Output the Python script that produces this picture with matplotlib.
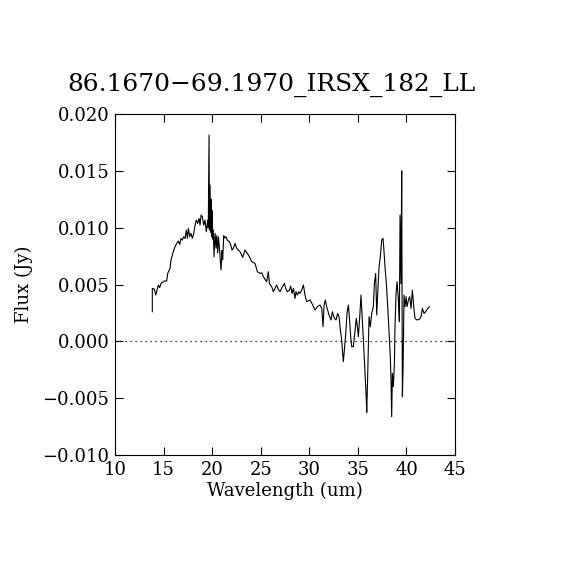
import matplotlib
matplotlib.use("Agg")
import matplotlib.pyplot as plt

# spectrum (wavelength in um, flux in Jy)
wave = [13.84, 13.84, 14.05, 14.19, 14.33, 14.46, 14.60, 14.74, 14.87, 15.08,
        15.32, 15.42, 15.66, 15.76, 16.00, 16.18, 16.35, 16.52, 16.66, 16.79,
        16.93, 17.07, 17.21, 17.34, 17.45, 17.55, 17.69, 17.82, 17.96, 18.10,
        18.24, 18.37, 18.51, 18.65, 18.75, 18.85, 18.99, 19.13, 19.26, 19.40,
        19.54, 19.60,
        19.68, 19.72, 19.78, 19.85, 19.90, 19.95, 20.00, 20.05, 20.12, 20.19,
        20.30, 20.40, 20.47, 20.57, 20.64, 20.74, 20.81, 20.91, 21.02, 21.08,
        21.19, 21.29, 21.43, 21.56, 21.77, 21.91, 22.05, 22.18, 22.35, 22.53,
        22.70, 22.87, 23.14, 23.38, 23.62, 23.83, 24.07, 24.41, 24.65, 24.93,
        25.10, 25.27, 25.44, 25.61, 25.78, 25.89, 26.13, 26.30, 26.47, 26.64,
        26.81, 26.99, 27.23, 27.43, 27.57, 27.74, 27.95, 28.08, 28.22, 28.36,
        28.53, 28.63, 28.77, 28.91, 29.04, 29.22, 29.39, 29.56, 29.73, 30.07,
        30.35, 30.59, 30.83, 31.10, 31.28, 31.41, 31.52, 31.65, 31.79, 32.03,
        32.24, 32.37, 32.58, 32.75, 32.92, 33.06, 33.16, 33.33, 33.50, 33.61,
        33.75, 33.88, 34.02, 34.12, 34.26, 34.36, 34.53, 34.71, 34.84, 34.95,
        35.05, 35.19, 35.32, 35.46, 35.60, 35.74, 35.87, 35.91, 36.01, 36.15,
        36.28, 36.42, 36.59, 36.70, 36.83, 36.94, 37.04, 37.18, 37.31, 37.45,
        37.59, 37.69, 37.79, 37.93, 38.07, 38.21, 38.34, 38.41, 38.48, 38.55,
        38.65, 38.76, 38.82, 38.93, 39.03, 39.17, 39.27, 39.34, 39.44, 39.51,
        39.58, 39.65, 39.75, 39.85, 39.96, 40.06, 40.20, 40.33, 40.47, 40.61,
        40.75, 40.88, 41.09, 41.33, 41.50, 41.64, 41.81, 41.98, 42.19, 42.36]

flux = [0.00261, 0.00466, 0.00460, 0.00408, 0.00452, 0.00496, 0.00473, 0.00510, 0.00519, 0.00531,
        0.00531, 0.00598, 0.00642, 0.00716, 0.00789, 0.00833, 0.00862, 0.00883, 0.00853, 0.00906,
        0.00892, 0.00921, 0.00906, 0.00980, 0.00906, 0.00994, 0.00921, 0.00950, 0.00906, 0.00950,
        0.01023, 0.01067, 0.01038, 0.01082, 0.01023, 0.01111, 0.01097, 0.01023, 0.01067, 0.00965,
        0.01067, 0.01000,
        0.01815, 0.00980, 0.01375, 0.00960, 0.01250, 0.00920, 0.01150, 0.00900, 0.00980, 0.00745,
        0.00950, 0.00820, 0.00930, 0.00780, 0.00920, 0.00830, 0.00750, 0.00628, 0.00800, 0.00720,
        0.00930, 0.00910, 0.00920, 0.00890, 0.00877, 0.00848, 0.00804, 0.00818, 0.00862, 0.00818,
        0.00804, 0.00789, 0.00739, 0.00804, 0.00774, 0.00745, 0.00701, 0.00686, 0.00613, 0.00598,
        0.00604, 0.00569, 0.00546, 0.00525, 0.00613, 0.00510, 0.00481, 0.00437, 0.00466, 0.00496,
        0.00458, 0.00437, 0.00481, 0.00510, 0.00466, 0.00437, 0.00452, 0.00487, 0.00422, 0.00466,
        0.00378, 0.00437, 0.00407, 0.00437, 0.00422, 0.00452, 0.00496, 0.00407, 0.00349, 0.00364,
        0.00320, 0.00276, 0.00305, 0.00320, 0.00290, 0.00129, 0.00320, 0.00364, 0.00305, 0.00232,
        0.00188, 0.00261, 0.00202, 0.00188, 0.00246, 0.00217, 0.00129, 0.00012, -0.00179, -0.00076,
        0.00070, 0.00246, 0.00320, 0.00217, 0.00041, -0.00047, -0.00047, 0.00100, 0.00202, 0.00129,
        0.00041, 0.00217, 0.00407, 0.00188, -0.00047, -0.00282, -0.00516, -0.00625, -0.00296, 0.00217,
        0.00129, 0.00246, 0.00305, 0.00510, 0.00598, 0.00232, 0.00422, 0.00657, 0.00745, 0.00892,
        0.00906, 0.00789, 0.00657, 0.00510, 0.00305, 0.00070, -0.00135, -0.00340, -0.00663, -0.00282,
        -0.00399, -0.00194, 0.00129, 0.00422, 0.00525, 0.00364, 0.00173, 0.01111, 0.00510, 0.01501,
        -0.00487, -0.00252, 0.00407, 0.00305, 0.00393, 0.00305, 0.00364, 0.00393, 0.00290, 0.00452,
        0.00305, 0.00202, 0.00188, 0.00194, 0.00217, 0.00290, 0.00246, 0.00261, 0.00290, 0.00305]

x_ticks = [10, 15, 20, 25, 30, 35, 40, 45]
y_ticks = [-0.010, -0.005, 0.000, 0.005, 0.010, 0.015, 0.020]

plt.rcParams['font.family'] = ['DejaVu Serif']

fig = plt.figure(figsize=(5.7, 5.7), dpi=100)
ax = fig.add_axes([0.2018, 0.2018, 0.5965, 0.598])

ax.plot(wave, flux, color="black", lw=0.8)
ax.axhline(0.0, color="black", lw=0.9, linestyle=(0, (1, 3)))

ax.set_xlim(10, 45)
ax.set_ylim(-0.010, 0.020)
ax.set_xticks(x_ticks)
ax.set_yticks(y_ticks)
ax.set_xticklabels([str(t) for t in x_ticks])
ax.set_yticklabels([f"{t:.3f}".replace("-", "\u2212") for t in y_ticks])
ax.tick_params(direction="in", length=6, width=0.8, top=True, right=True,
               labelsize=13, pad=4)
for s in ax.spines.values():
    s.set_linewidth(0.8)

ax.set_xlabel("Wavelength (um)", fontsize=13, labelpad=2)
ax.set_ylabel("Flux (Jy)", fontsize=13, labelpad=7)
# title sits a bit left of the axes centre in the original
ax.set_title("86.1670\u221269.1970_IRSX_182_LL", fontsize=17.9, pad=17, x=0.459)

fig.savefig("out.png", dpi=100)
